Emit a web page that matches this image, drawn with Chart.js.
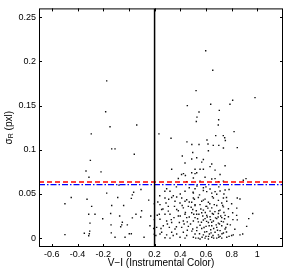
<!DOCTYPE html>
<html><head><meta charset="utf-8">
<script src="https://cdn.jsdelivr.net/npm/chart.js@4"></script>
<style>html,body{margin:0;padding:0;background:#fff}</style>
</head><body>
<canvas id="c" width="287" height="271"></canvas>
<script>
const xTicks = [-0.6,-0.4,-0.2,0,0.2,0.4,0.6,0.8,1];
const yTicks = [0,0.05,0.1,0.15,0.2,0.25];
const xRange = [-0.7,1.2];
const yRange = [-0.01,0.26];
const redLevel = 0.0635;
const blueLevel = 0.0605;
const colorCut = 0.2;

const colorVI = [
-0.173,-0.181,-0.147,0.061,-0.293,-0.134,-0.108,0.042,-0.30,-0.334,-0.217,-0.311,-0.077,0.094,0.037,-0.173,-0.449,-0.326,-0.087,0.019,0.027,0.154,-0.498,-0.29,-0.134,-0.041,0.198,0.099,-0.313,-0.264,-0.142,0.055,-0.204,-0.072,0.027,0.092,0.17,-0.303,-0.051,-0.056,-0.139,-0.012,-0.064,0.164,0.193,-0.305,-0.137,0.003,0.019,-0.347,-0.308,-0.313,-0.498,-0.108,-0.03,0.118,0.198,0.198,
0.598,0.653,0.523,0.982,0.808,0.787,0.637,0.455,0.704,0.546,0.530,0.525,0.699,0.696,0.819,0.234,0.328,0.676,0.735,0.746,0.751,0.608,0.452,0.546,0.616,0.657,0.70,
0.416,0.437,0.333,0.41,0.425,0.44,0.385,0.45,0.294,0.28,0.32,0.346,0.437,
0.49,0.736,0.619,0.497,0.528,0.489,0.58,0.567,0.645,0.632,0.515,0.554,0.58,0.749,0.671,0.489,0.515,0.528,0.71,0.593,0.502,0.645,0.671,0.736,0.554,0.697,0.515,0.58,0.632,0.671,0.71,0.749,0.502,0.606,0.645,0.684,
0.844,0.891,0.912,
0.281,0.333,0.372,0.411,0.242,0.289,0.307,0.359,0.398,0.437,0.45,0.255,0.307,0.372,0.424,0.463,0.237,0.281,0.32,0.351,0.385,0.437,0.45,0.242,0.294,0.333,0.393,0.424,0.455,0.268,0.315,0.359,0.411,0.463,0.255,0.242,0.294,0.333,0.372,0.424,0.45,0.281,0.32,0.398,0.437,0.221,0.216,
0.502,0.541,0.593,0.658,0.697,0.736,0.762,0.489,0.567,0.619,0.723,0.515,0.554,0.606,0.645,0.684,0.736,0.775,0.497,0.58,0.632,0.71,0.489,0.528,0.567,0.606,0.658,0.697,0.749,0.515,0.593,0.632,0.684,0.723,0.775,0.502,0.541,0.58,0.619,0.658,0.697,0.736,0.767,0.554,0.601,0.645,0.684,0.723,0.497,0.528,0.567,0.606,0.637,0.671,0.71,0.749,0.515,0.58,0.627,0.697,0.736,0.502,0.541,0.593,0.645,0.684,0.723,0.762,0.554,0.619,
0.844,0.865,0.808,0.839,0.964,0.844,0.933,0.917,0.80,0.813,0.865,0.886,
0.47,0.485,0.51,0.525,0.535,0.545,0.56,0.575,0.585,0.595,0.605,0.615,0.625,0.635,0.64,0.65,0.66,0.665,0.675,0.69,0.70,0.705,0.715,0.725,0.74,0.755,0.47,0.48,0.49,0.505,0.515,0.53,0.55,0.565,0.58,0.59,0.60,0.61,0.62,0.63,0.645,0.655,0.67,0.68,0.695,0.71,0.72,0.73,0.745,0.76,0.44,0.455,0.43,0.415,0.40,0.385,0.37,0.355,0.345,0.33,0.31,0.30,0.265,0.25,0.225,0.21,0.52,0.57,0.60,0.66,0.70,0.78,0.79,0.80,0.81,0.825,0.84,0.76,0.50,0.55,0.60,0.65,0.70,0.74,0.78,0.58,0.53,0.47,0.40,0.37,0.24
];
const sigmaR = [
0.178,0.143,0.126,0.128,0.118,0.101,0.101,0.095,0.088,0.076,0.075,0.069,0.060,0.055,0.052,0.051,0.046,0.044,0.046,0.045,0.049,0.043,0.039,0.036,0.037,0.037,0.039,0.031,0.027,0.027,0.028,0.027,0.022,0.025,0.023,0.024,0.025,0.017,0.018,0.015,0.015,0.015,0.013,0.014,0.011,0.008,0.006,0.005,0.005,0.0055,0.005,0.0027,0.004,0.001,0.001,0.001,0.0045,0.021,
0.212,0.190,0.167,0.159,0.156,0.1515,0.1515,0.150,0.1446,0.1427,0.137,0.132,0.134,0.128,0.1206,0.118,0.113,0.116,0.116,0.1136,0.1106,0.111,0.109,0.106,0.1066,0.105,0.105,
0.093,0.085,0.078,0.072,0.073,0.071,0.0675,0.064,0.056,0.053,0.053,0.048,0.053,
0.106,0.102,0.099,0.097,0.091,0.0895,0.089,0.086,0.084,0.081,0.078,0.078,0.078,0.082,0.077,0.074,0.073,0.074,0.072,0.069,0.068,0.067,0.0674,0.0645,0.0645,0.064,0.056,0.057,0.0556,0.0527,0.0534,0.0545,0.051,0.0527,0.051,0.0497,
0.1025,0.0656,0.0674,
0.0454,0.046,0.0465,0.0454,0.038,0.0398,0.036,0.0417,0.0398,0.0417,0.0435,0.0324,0.0306,0.0324,0.0343,0.036,0.027,0.027,0.027,0.0232,0.025,0.027,0.0232,0.0214,0.0195,0.0177,0.0177,0.0195,0.0184,0.014,0.0122,0.0103,0.0122,0.0133,0.0066,0.0048,0.0037,0.0066,0.0048,0.0066,0.003,0.0005,0.0,0.001,0.0,0.026,0.0122,
0.0454,0.046,0.0442,0.0454,0.0428,0.0454,0.0417,0.0406,0.0417,0.0406,0.0398,0.0369,0.038,0.036,0.0343,0.0369,0.0354,0.0332,0.0324,0.0317,0.0306,0.0317,0.0288,0.027,0.0288,0.0258,0.027,0.028,0.0258,0.0232,0.0221,0.0243,0.0221,0.0232,0.0243,0.0195,0.0184,0.0206,0.0177,0.0195,0.017,0.0184,0.0158,0.0147,0.0133,0.014,0.0122,0.014,0.0103,0.0085,0.011,0.0074,0.0096,0.0066,0.0085,0.0103,0.0048,0.0037,0.0048,0.0037,0.0059,0.001,0.0,0.0,0.001,0.0,0.0,0.001,-0.001,-0.001,
0.0454,0.0443,0.0288,0.0258,0.028,0.0207,0.0221,0.0133,0.003,0.0037,0.0037,0.0048,
0.041,0.035,0.044,0.031,0.022,0.027,0.033,0.025,0.012,0.029,0.019,0.034,0.014,0.021,0.006,0.028,0.011,0.038,0.023,0.009,0.031,0.016,0.025,0.005,0.029,0.012,0.024,0.016,0.008,0.027,0.038,0.012,0.005,0.018,0.043,0.007,0.036,0.024,0.002,0.039,0.018,0.003,0.030,0.015,0.024,0.002,0.019,0.037,0.022,0.007,0.029,0.009,0.016,0.037,0.025,0.031,0.013,0.036,0.003,0.021,0.044,0.016,0.033,0.011,0.041,0.003,0.0,0.001,0.002,0.0,0.001,0.002,0.015,0.039,0.021,0.010,0.034,0.046,0.052,0.049,0.058,0.047,0.058,0.050,0.055,0.054,0.059,0.057,0.050,0.058,0.048
];

const FONT = '"Liberation Sans", Arial, Helvetica, sans-serif';

const framePlugin = {
  id: 'frame',
  afterDraw(chart) {
    const {ctx, chartArea: a, scales: {x, y}} = chart;
    ctx.save();
    ctx.strokeStyle = '#000';
    ctx.lineWidth = 1;
    ctx.strokeRect(a.left + 0.5, a.top + 0.5, a.right - a.left - 1, a.bottom - a.top - 1);
    const L = 3;
    ctx.beginPath();
    x.ticks.forEach(t => {
      const px = Math.round(x.getPixelForValue(t.value)) + 0.5;
      ctx.moveTo(px, a.bottom); ctx.lineTo(px, a.bottom - L);
      ctx.moveTo(px, a.top); ctx.lineTo(px, a.top + L);
    });
    y.ticks.forEach(t => {
      const py = Math.round(y.getPixelForValue(t.value)) + 0.5;
      ctx.moveTo(a.left, py); ctx.lineTo(a.left + L, py);
      ctx.moveTo(a.right, py); ctx.lineTo(a.right - L, py);
    });
    ctx.stroke();
    // y axis title with subscript
    ctx.fillStyle = '#000';
    ctx.translate(9, (a.top + a.bottom) / 2);
    ctx.rotate(-Math.PI / 2);
    ctx.textBaseline = 'middle';
    ctx.textAlign = 'left';
    const f1 = '10px ' + FONT, f2 = '7px ' + FONT;
    ctx.font = f1; const w1 = ctx.measureText('σ').width; const w3 = ctx.measureText(' (pxl)').width;
    ctx.font = f2; const w2 = ctx.measureText('R').width;
    let sx = -(w1 + w2 + w3) / 2;
    ctx.font = f1; ctx.fillText('σ', sx, 0); sx += w1;
    ctx.font = f2; ctx.fillText('R', sx, 2.5); sx += w2;
    ctx.font = f1; ctx.fillText(' (pxl)', sx, 0);
    ctx.restore();
  }
};

const points = colorVI.map((v, i) => ({x: v, y: sigmaR[i]}));

new Chart(document.getElementById('c'), {
  type: 'scatter',
  data: {
    datasets: [
      {data: [{x: colorCut, y: yRange[0]}, {x: colorCut, y: yRange[1]}], showLine: true, borderColor: '#000', borderWidth: 1.5, pointRadius: 0},
      {data: [{x: xRange[0], y: redLevel}, {x: xRange[1], y: redLevel}], showLine: true, borderColor: '#ff0000', borderWidth: 1.5, borderDash: [5, 3], pointRadius: 0},
      {data: [{x: xRange[0], y: blueLevel}, {x: xRange[1], y: blueLevel}], showLine: true, borderColor: '#0000ff', borderWidth: 1.2, borderDash: [6, 2, 1.5, 2], pointRadius: 0},
      {data: points, pointStyle: 'rect', pointRadius: 1.0, pointBackgroundColor: '#111', pointBorderWidth: 0, showLine: false}
    ]
  },
  options: {
    responsive: false,
    animation: false,
    devicePixelRatio: 1,
    layout: {padding: {top: 3, right: 4, bottom: 0, left: 0}},
    plugins: {legend: {display: false}, tooltip: {enabled: false}},
    scales: {
      x: {
        type: 'linear', min: xRange[0], max: xRange[1],
        grid: {display: false, drawTicks: false}, border: {display: false},
        afterBuildTicks: s => { s.ticks = xTicks.map(v => ({value: v})); },
        afterFit: s => { s.height = 24; },
        ticks: {padding: 2, color: '#000', font: {family: FONT, size: 9}, maxRotation: 0, autoSkip: false,
          callback: v => String(v)},
        title: {display: true, text: 'V−I (Instrumental Color)', color: '#000', font: {family: FONT, size: 10}, padding: {top: 0, bottom: 2}}
      },
      y: {
        type: 'linear', min: yRange[0], max: yRange[1],
        grid: {display: false, drawTicks: false}, border: {display: false},
        afterBuildTicks: s => { s.ticks = yTicks.map(v => ({value: v})); },
        afterFit: s => { s.width = 39; },
        ticks: {padding: 3, color: '#000', font: {family: FONT, size: 9}, autoSkip: false,
          callback: v => String(v)}
      }
    }
  },
  plugins: [framePlugin]
});
</script>
</body></html>
